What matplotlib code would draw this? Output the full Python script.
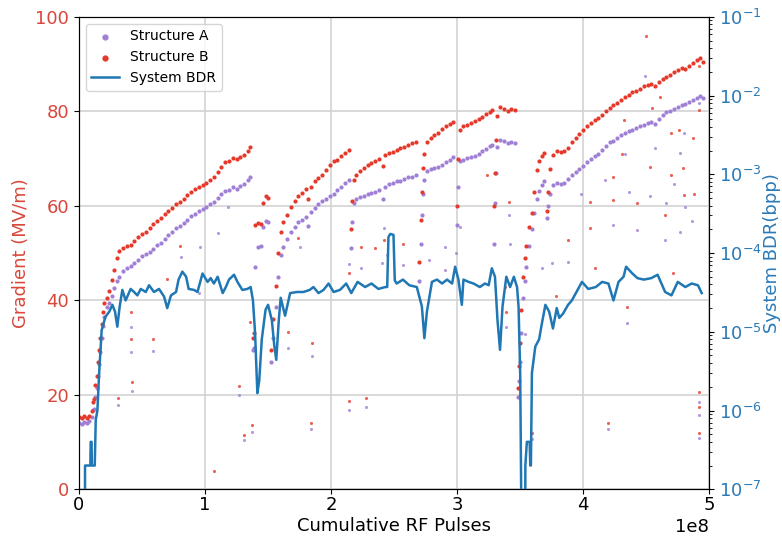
import numpy as np
import matplotlib
matplotlib.use("Agg")
import matplotlib.pyplot as plt

# ── data (pulses in units of 1e8) ────────────────────────────────────────────
pulses = [
    0.00, 0.02, 0.04, 0.06, 0.08, 0.10, 0.11, 0.12, 0.13, 0.14, 0.15, 0.16, 0.17,
    0.18, 0.19, 0.20, 0.22, 0.24, 0.26, 0.28, 0.30, 0.32, 0.35, 0.38, 0.41, 0.44,
    0.47, 0.50, 0.53, 0.56, 0.59, 0.62, 0.65, 0.68, 0.71, 0.74, 0.77, 0.80, 0.83,
    0.86, 0.89, 0.92, 0.95, 0.98, 1.01, 1.04, 1.07, 1.10, 1.13, 1.16, 1.19, 1.22,
    1.25, 1.28, 1.31, 1.34, 1.36,
    1.38, 1.39, 1.40, 1.42, 1.44, 1.46, 1.48, 1.50,
    1.52, 1.54, 1.56, 1.58, 1.60, 1.62, 1.65, 1.68, 1.71, 1.74, 1.77, 1.80, 1.82,
    1.84, 1.87, 1.90, 1.93, 1.96, 1.99, 2.02, 2.05, 2.08, 2.11, 2.14,
    2.155, 2.165, 2.18, 2.20, 2.23, 2.26, 2.29, 2.32, 2.35, 2.38, 2.41, 2.43, 2.46,
    2.49, 2.52, 2.55, 2.58, 2.61, 2.64, 2.67,
    2.70, 2.71, 2.72, 2.73, 2.74, 2.76, 2.79, 2.82, 2.85, 2.88, 2.91, 2.94, 2.97,
    3.00, 3.01, 3.02, 3.05, 3.08, 3.11, 3.14, 3.17, 3.20, 3.23, 3.26, 3.28,
    3.29, 3.30, 3.31, 3.32, 3.34, 3.37, 3.40, 3.43, 3.46,
    3.48, 3.49, 3.50, 3.51, 3.52, 3.535, 3.55, 3.57, 3.59, 3.61, 3.63, 3.65, 3.67,
    3.69, 3.71, 3.72, 3.74, 3.76, 3.79, 3.82, 3.85, 3.88, 3.91, 3.94, 3.97, 4.00,
    4.03, 4.06, 4.09, 4.12, 4.15, 4.18, 4.21, 4.24, 4.27, 4.30, 4.33, 4.36, 4.39,
    4.42, 4.45, 4.48, 4.51, 4.54, 4.57, 4.60, 4.63, 4.66, 4.69, 4.72, 4.75, 4.78,
    4.81, 4.84, 4.87, 4.90, 4.93, 4.95,
]
grad_b = [
    15.2, 15.0, 15.5, 15.1, 15.6, 16.5, 18.5, 19.0, 22.0, 24.0, 27.0, 29.5, 32.0,
    35.0, 37.5, 39.5, 40.5, 42.0, 44.3, 46.5, 49.0, 50.5, 51.0, 51.4, 51.8, 52.6,
    53.5, 54.0, 54.5, 55.3, 56.2, 56.8, 57.5, 58.2, 58.8, 59.6, 60.3, 60.8, 61.5,
    62.2, 63.0, 63.6, 64.0, 64.5, 64.9, 65.4, 66.0, 67.2, 68.2, 69.2, 69.5, 70.2,
    70.0, 70.3, 70.8, 71.5, 72.4,
    32.0, 33.0, 56.0, 56.3, 56.2, 60.5, 62.0, 61.6,
    29.5, 36.0, 43.0, 50.0, 54.5, 56.5, 58.0, 59.8, 61.0, 62.0, 62.8, 63.5, 61.5,
    64.0, 65.3, 65.8, 66.6, 67.5, 68.6, 69.4, 69.8, 70.5, 71.2, 71.8,
    55.0, 61.0, 65.5, 66.5, 67.4, 68.0, 68.6, 69.0, 69.5, 70.0, 68.5, 70.8, 71.2,
    71.3, 71.8, 72.2, 72.5, 72.8, 73.2, 73.6,
    48.0, 57.0, 63.0, 68.0, 71.0, 73.5, 74.3, 75.0, 75.5, 76.2, 76.8, 77.3, 77.8,
    60.0, 70.0, 76.0, 76.8, 77.2, 77.6, 78.0, 78.4, 78.9, 79.4, 79.8, 80.2,
    60.0, 67.0, 74.0, 79.0, 81.0, 80.4, 80.0, 80.5, 80.2,
    21.5, 26.0, 31.0, 38.0, 45.0, 49.0, 51.5, 55.5, 58.5, 63.0, 67.5, 69.5, 70.5,
    71.2, 59.0, 63.0, 67.8, 70.8, 71.5, 71.4, 71.6, 72.3, 73.4, 74.3, 75.2, 76.0,
    76.8, 77.5, 78.2, 78.6, 79.3, 80.0, 80.8, 81.3, 81.8, 82.5, 83.0, 83.5, 84.0,
    84.4, 84.8, 85.3, 85.5, 85.8, 85.3, 86.1, 86.8, 87.2, 87.6, 88.3, 88.8, 89.2,
    89.0, 89.6, 90.3, 90.8, 91.2, 90.5,
]
grad_a = [
    14.0, 13.8, 14.3, 14.0, 14.5, 15.2, 16.8, 17.0, 19.5, 21.5, 24.0, 26.5, 29.0,
    32.0, 34.5, 36.5, 38.5, 39.5, 41.0, 42.5, 44.0, 45.0, 46.2, 46.8, 47.3, 47.9,
    48.6, 49.3, 49.9, 50.3, 50.9, 51.6, 52.2, 53.0, 53.8, 54.5, 55.2, 55.8, 56.4,
    57.0, 57.8, 58.3, 58.8, 59.4, 59.8, 60.3, 60.8, 61.6, 62.4, 63.2, 63.4, 64.0,
    63.6, 64.2, 64.6, 65.4, 66.0,
    29.5, 30.0, 47.0, 51.3, 51.5, 55.5, 56.8, 56.5,
    27.0, 32.0, 38.5, 45.0, 49.5, 51.3, 53.0, 54.5, 55.6, 56.5, 57.0, 57.6, 55.8,
    58.6, 59.6, 60.3, 61.0, 61.4, 62.0, 62.6, 63.4, 64.0, 64.8, 65.5,
    51.0, 56.5, 60.5, 61.5, 61.8, 62.0, 62.4, 62.8, 63.0, 63.3, 61.5, 64.0, 64.6,
    64.8, 65.2, 65.3, 65.7, 66.0, 66.2, 66.5,
    44.0, 52.0, 58.0, 62.5, 65.5, 67.4, 67.8, 68.0, 68.2, 68.6, 69.2, 69.7, 70.3,
    56.0, 64.0, 69.5, 69.8, 70.2, 70.4, 70.6, 71.0, 71.5, 72.0, 72.6, 72.9,
    52.0, 60.5, 67.0, 72.5, 74.0, 73.8, 73.2, 73.6, 73.3,
    19.5, 23.0, 27.0, 33.0, 40.5, 44.0, 47.0, 51.5, 55.0, 58.5, 61.5, 63.2, 64.5,
    65.3, 57.5, 60.0, 62.5, 64.5, 64.8, 64.6, 64.9, 65.6, 66.6, 67.2, 67.8, 68.4,
    69.3, 70.0, 70.6, 71.0, 71.8, 72.6, 73.4, 73.8, 74.3, 74.9, 75.4, 75.8, 76.1,
    76.5, 76.8, 77.2, 77.5, 77.7, 77.4, 78.4, 79.2, 79.8, 80.0, 80.4, 80.9, 81.3,
    81.5, 81.9, 82.4, 82.8, 83.2, 82.8,
]

# isolated points away from the main bands
outlier_b_x = [
    0.31, 0.42, 0.41, 0.41, 0.59, 0.70, 0.80, 1.07, 1.27, 1.31, 1.37, 1.36, 1.66,
    1.85, 1.84, 2.14, 2.28, 2.14, 2.24, 1.74, 2.35, 2.42, 2.57, 3.24, 3.41, 3.38,
    3.39, 3.59, 3.785, 3.88, 4.05, 4.05, 4.09, 4.20, 4.24, 4.24, 4.31, 4.32, 4.35,
    4.43, 4.50, 4.53, 4.545, 4.61, 4.65, 4.70, 4.70, 4.71, 4.76, 4.79, 4.80, 4.87,
    4.88, 4.92, 4.92, 4.915, 4.915, 4.915,
]
outlier_b = [
    19.4, 22.8, 37.6, 31.9, 31.9, 44.4, 51.5, 3.8, 21.8, 11.5, 13.7, 35.5, 33.2,
    31.0, 14.0, 18.6, 19.3, 45.7, 51.3, 53.1, 51.0, 52.8, 52.0, 66.5, 60.9, 42.9,
    37.6, 11.9, 40.9, 52.8, 55.2, 60.7, 46.8, 14.1, 66.2, 61.2, 71.0, 78.2, 38.6,
    60.5, 95.9, 68.3, 80.7, 83.1, 58.1, 75.5, 66.5, 45.8, 76.0, 67.9, 62.3, 74.3,
    62.6, 89.5, 80.3, 20.6, 17.4, 11.9,
]
outlier_a_x = [
    0.31, 0.42, 0.41, 0.41, 0.59, 0.81, 0.95, 0.96, 1.105, 1.185, 1.27, 1.31, 1.37,
    1.66, 1.75, 1.85, 1.84, 2.14, 2.14, 2.24, 2.28, 2.40, 2.42, 2.44, 2.57, 2.78,
    2.90, 2.90, 2.99, 3.02, 3.41, 3.42, 3.39, 3.59, 3.54, 3.67, 3.75, 3.88, 3.98,
    4.17, 4.20, 4.24, 4.33, 4.35, 4.36, 4.43, 4.49, 4.53, 4.57, 4.65, 4.66, 4.72,
    4.77, 4.77, 4.80, 4.81, 4.86, 4.92, 4.915, 4.915, 4.915,
]
outlier_a = [
    17.8, 20.7, 34.3, 29.0, 29.3, 49.2, 41.5, 51.3, 54.2, 59.8, 19.9, 10.4, 12.1,
    30.0, 51.3, 28.2, 12.8, 16.7, 47.7, 46.8, 17.4, 47.9, 55.2, 49.6, 47.5, 48.5,
    51.3, 46.5, 50.0, 55.6, 58.0, 52.0, 34.4, 10.6, 32.8, 46.8, 47.9, 48.2, 62.6,
    65.5, 12.7, 55.9, 71.0, 35.1, 63.0, 54.9, 87.4, 62.0, 72.3, 52.8, 60.5, 64.7,
    71.1, 54.5, 75.5, 59.8, 56.8, 81.7, 18.5, 15.7, 10.9,
]

bdr_x = [
    0.047, 0.048, 0.09, 0.093, 0.10, 0.102, 0.125, 0.133, 0.146, 0.16, 0.18, 0.21,
    0.24, 0.265, 0.286, 0.304, 0.323, 0.344, 0.37, 0.41, 0.437, 0.463, 0.49, 0.53,
    0.556, 0.595, 0.635, 0.675, 0.70, 0.73, 0.77, 0.79, 0.82, 0.85, 0.87, 0.913,
    0.94, 0.98, 1.02, 1.045, 1.07, 1.10, 1.14, 1.165, 1.19, 1.23, 1.257, 1.296,
    1.336, 1.362, 1.38, 1.397, 1.415, 1.43, 1.45, 1.48, 1.50, 1.53, 1.55, 1.565,
    1.585, 1.60, 1.635, 1.675, 1.73, 1.78, 1.83, 1.86, 1.90, 1.94, 1.98, 2.02,
    2.07, 2.12, 2.16, 2.21, 2.27, 2.32, 2.375, 2.43, 2.445, 2.455, 2.47, 2.495,
    2.505, 2.52, 2.57, 2.62, 2.68, 2.72, 2.74, 2.76, 2.80, 2.84, 2.88, 2.92, 2.96,
    2.984, 3.01, 3.037, 3.05, 3.09, 3.13, 3.18, 3.22, 3.25, 3.275, 3.30, 3.32,
    3.34, 3.36, 3.39, 3.42, 3.45, 3.475, 3.487, 3.50, 3.513, 3.54, 3.541, 3.553,
    3.575, 3.58, 3.585, 3.593, 3.62, 3.65, 3.672, 3.70, 3.73, 3.76, 3.79, 3.81,
    3.84, 3.88, 3.91, 3.96, 3.99, 4.04, 4.10, 4.15, 4.20, 4.24, 4.28, 4.32, 4.34,
    4.39, 4.43, 4.48, 4.54, 4.59, 4.65, 4.70, 4.75, 4.81, 4.86, 4.91, 4.94,
]
bdr = [
    1e-8, 2e-7, 2e-7, 4e-7, 4e-7, 2e-7, 2e-7, 7.6e-7, 1.0e-6, 3.0e-6, 1.05e-5,
    1.55e-5, 1.8e-5, 2.2e-5, 1.8e-5, 1.16e-5, 2.1e-5, 3.4e-5, 2.5e-5, 3.5e-5,
    3.2e-5, 2.9e-5, 3.5e-5, 3.2e-5, 3.9e-5, 3.2e-5, 3.5e-5, 2.8e-5, 2.0e-5,
    2.9e-5, 3.2e-5, 4.6e-5, 5.8e-5, 5.0e-5, 3.5e-5, 3.4e-5, 3.2e-5, 5.5e-5,
    4.3e-5, 4.8e-5, 4.1e-5, 5.0e-5, 3.1e-5, 3.7e-5, 4.6e-5, 5.3e-5, 4.3e-5,
    3.4e-5, 3.5e-5, 3.7e-5, 2.5e-5, 9.6e-6, 1.66e-6, 2.4e-6, 8.0e-6, 1.9e-5,
    2.2e-5, 1.4e-5, 6.5e-6, 4.4e-6, 1.4e-5, 2.7e-5, 1.6e-5, 3.1e-5, 3.2e-5,
    3.2e-5, 3.4e-5, 3.7e-5, 3.1e-5, 3.4e-5, 4.1e-5, 3.2e-5, 3.4e-5, 4.1e-5,
    3.1e-5, 4.3e-5, 3.7e-5, 4.1e-5, 3.5e-5, 3.7e-5, 3.7e-5, 1.6e-4, 1.75e-4,
    1.7e-4, 4.5e-5, 4.1e-5, 4.6e-5, 3.9e-5, 3.7e-5, 2.1e-5, 8.3e-6, 1.8e-5,
    4.3e-5, 4.6e-5, 4.1e-5, 4.6e-5, 4.1e-5, 6.7e-5, 4.6e-5, 2.2e-5, 4.6e-5,
    4.3e-5, 4.1e-5, 3.7e-5, 4.1e-5, 3.9e-5, 6.4e-5, 5.0e-5, 1.4e-5, 5.9e-6,
    2.1e-5, 5.0e-5, 3.7e-5, 5.0e-5, 3.7e-5, 2.1e-5, 3.0e-6, 1e-8, 1e-8, 2e-7,
    4e-7, 4e-7, 2e-7, 2e-7, 3e-6, 6.5e-6, 8e-6, 1.27e-5, 2.2e-5, 1.8e-5, 1.1e-5,
    2.0e-5, 1.5e-5, 1.7e-5, 2.2e-5, 2.5e-5, 3.5e-5, 4.3e-5, 3.5e-5, 3.7e-5,
    4.3e-5, 4.1e-5, 2.5e-5, 4.3e-5, 5.0e-5, 6.7e-5, 5.5e-5, 4.8e-5, 4.6e-5,
    4.8e-5, 5.3e-5, 3.2e-5, 2.9e-5, 4.3e-5, 3.7e-5, 4.1e-5, 3.9e-5, 3.1e-5,
]

SCALE = 1e8
C_A = "#a07fd6"
C_B = "#e5392b"
C_BDR = "#1f77b4"
C_LEFT = "#d9473b"
C_RIGHT = "#2a7ab8"

plt.rcParams["xtick.labelsize"] = 13
plt.rcParams["ytick.labelsize"] = 13

# ── figure ───────────────────────────────────────────────────────────────────
fig, ax = plt.subplots(figsize=(7.82, 5.43), dpi=100)
fig.subplots_adjust(left=0.101, right=0.907, bottom=0.099, top=0.969)

x_main = np.array(pulses) * SCALE
sa = ax.scatter(x_main, grad_a, s=9, color=C_A, linewidths=0, zorder=3,
                label="Structure A")
ax.scatter(np.array(outlier_a_x) * SCALE, outlier_a, s=5, color=C_A,
           linewidths=0, alpha=0.8, zorder=3)
sb = ax.scatter(x_main, grad_b, s=9, color=C_B, linewidths=0, zorder=3,
                label="Structure B")
ax.scatter(np.array(outlier_b_x) * SCALE, outlier_b, s=5, color=C_B,
           linewidths=0, alpha=0.8, zorder=3)

ax.set_xlim(0, 5 * SCALE)
ax.set_ylim(0, 100)
ax.set_xlabel("Cumulative RF Pulses", fontsize=13, labelpad=2)
ax.set_ylabel("Gradient (MV/m)", fontsize=13, color=C_LEFT)
ax.tick_params(axis="y", labelcolor=C_LEFT)
ax.tick_params(axis="x", pad=1.5)
ax.grid(True, color="#d3d3d3", linewidth=1.2, zorder=0)
ax.set_axisbelow(True)

ax2 = ax.twinx()
ln, = ax2.plot(np.array(bdr_x) * SCALE, bdr, color=C_BDR, lw=1.8,
               label="System BDR", zorder=4)
ax2.set_yscale("log")
ax2.set_ylim(1e-7, 1e-1)
ax2.set_ylabel("System BDR(bpp)", fontsize=13, color=C_RIGHT, labelpad=1)
ax2.tick_params(axis="y", which="both", labelcolor=C_RIGHT)

ax2.legend(handles=[sa, sb, ln], loc="upper left", fontsize=10,
           markerscale=1.5, scatterpoints=1)

fig.savefig("out.png", dpi=100)
plt.close(fig)
